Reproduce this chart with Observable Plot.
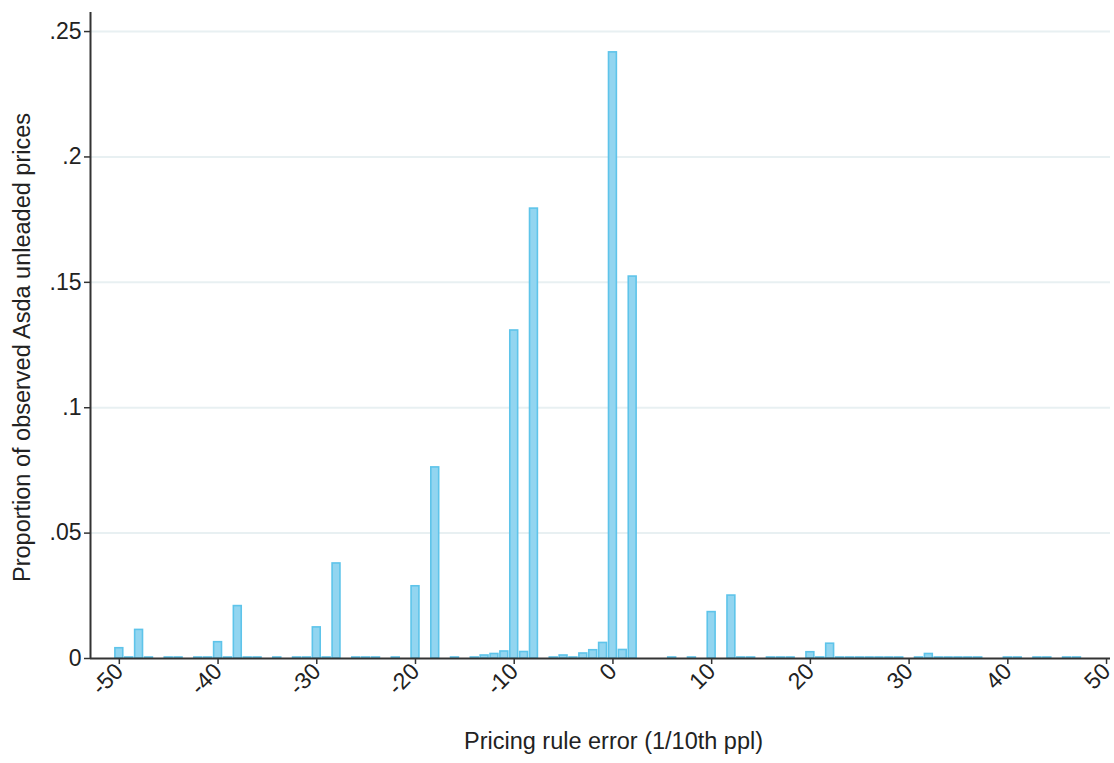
<!DOCTYPE html>
<html><head><meta charset="utf-8">
<script src="https://cdn.jsdelivr.net/npm/d3@7"></script>
<script src="https://cdn.jsdelivr.net/npm/@observablehq/plot@0.6"></script>
<style>body{margin:0;background:#fff;}</style>
</head><body><div id="chart"></div>
<script>
const errors = [-50,-49,-48,-47,-45,-44,-42,-41,-40,-39,-38,-37,-36,-34,-32,-31,-30,-29,-28,-26,-25,-24,-22,-20,-18,-16,-14,-13,-12,-11,-10,-9,-8,-6,-5,-4,-3,-2,-1,0,1,2,6,8,10,12,13,14,16,17,18,20,21,22,23,24,25,26,27,28,29,31,32,33,34,35,36,37,40,41,43,44,46,47];
const proportions = [.0041,.0004,.0114,.0004,.0004,.0004,.0004,.0004,.0065,.0004,.0209,.0004,.0004,.0004,.0004,.0004,.0124,.0004,.0379,.0004,.0004,.0004,.0004,.0288,.0762,.0004,.0004,.0012,.0018,.0028,.1308,.0026,.1794,.0004,.0012,.0004,.0020,.0033,.0062,.2417,.0034,.1523,.0004,.0004,.0185,.0251,.0004,.0004,.0004,.0004,.0004,.0025,.0004,.0059,.0004,.0004,.0004,.0004,.0004,.0004,.0004,.0004,.0018,.0004,.0004,.0004,.0004,.0004,.0004,.0004,.0004,.0004,.0004,.0004];
const xTicks = [-50,-40,-30,-20,-10,0,10,20,30,40,50];
const xTickLabels = ["-50","-40","-30","-20","-10","0","10","20","30","40","50"];
const yTicks = [0,.05,.1,.15,.2,.25];
const yTickLabels = ["0",".05",".1",".15",".2",".25"];
const xTitle = "Pricing rule error (1/10th ppl)";
const yTitle = "Proportion of observed Asda unleaded prices";

const data = errors.map((e,i)=>({e, p: proportions[i]}));
const xMin = -52.92, xMax = 50.4;
const font = "'Liberation Sans', Arial, sans-serif";

const chart = Plot.plot({
  width: 1114, height: 763,
  marginLeft: 90, marginRight: 4, marginTop: 12, marginBottom: 105,
  style: {fontFamily: font, fontSize: "24px", color: "#222", background: "#fff", overflow: "visible"},
  x: {domain: [xMin, xMax]},
  y: {domain: [0, 0.2576]},
  marks: [
    Plot.gridY(yTicks.filter(d => d > 0), {stroke: "#e8f0f2", strokeOpacity: 1, strokeWidth: 2}),
    Plot.rect(data, {x1: d => d.e - 0.5, x2: d => d.e + 0.5, y1: 0, y2: "p",
      fill: "#92d5f0", stroke: "#5ec4ea", strokeWidth: 1.6, insetLeft: 1, insetRight: 1}),
    Plot.ruleX([xMin], {stroke: "#333", strokeWidth: 2}),
    Plot.ruleY([0], {stroke: "#333", strokeWidth: 2}),
    Plot.axisX({ticks: xTicks, tickFormat: d => xTickLabels[xTicks.indexOf(d)], tickRotate: -45,
      tickSize: 6, tickPadding: 3, stroke: "#333", strokeWidth: 1.5, label: null, fontSize: 23}),
    Plot.axisY({ticks: yTicks, tickFormat: d => yTickLabels[yTicks.indexOf(d)],
      tickSize: 6, tickPadding: 3, stroke: "#333", strokeWidth: 1.5, label: null, fontSize: 23}),
    Plot.text([xTitle], {frameAnchor: "bottom", dx: 13, dy: 90, fontSize: 23.5, fill: "#222"}),
    Plot.text([yTitle], {frameAnchor: "left", textAnchor: "middle", rotate: -90, dx: -68, dy: 12, fontSize: 23.5, fill: "#222"})
  ]
});
document.getElementById("chart").appendChild(chart);
</script>
</body></html>
